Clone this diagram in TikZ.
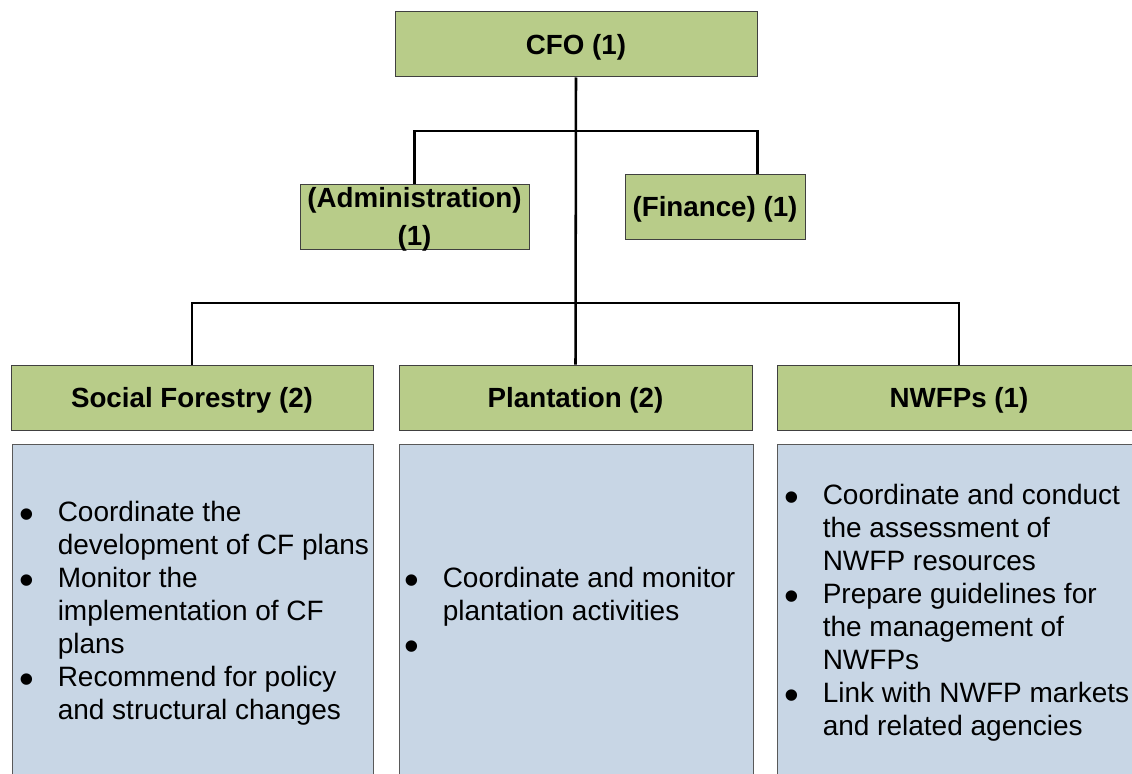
\documentclass[tikz,border=0pt]{standalone}
\usepackage{fontspec}
\setmainfont{Liberation Sans}
\usetikzlibrary{positioning}

\definecolor{headgreen}{RGB}{184,204,137}
\definecolor{bodyblue}{RGB}{200,214,229}

\tikzstyle{head} = [draw=black!75, fill=headgreen, line width=0.75pt, inner sep=0pt,
    align=center, font=\bfseries\fontsize{20.8}{28.5}\selectfont, text depth=0pt,
    minimum height=65*0.75pt]
\tikzstyle{body} = [draw=black!65, fill=bodyblue, line width=0.75pt, inner sep=0pt,
    minimum height=334*0.75pt]
\tikzstyle{tasks} = [anchor=west, inner sep=0pt, font=\fontsize{21}{24.75}\selectfont]
\tikzstyle{link} = [line width=1.9pt]

% bullet list with fixed line breaks
\newcommand{\dotmark}{\raisebox{-0.25em}{\scalebox{1.5}{\textbullet}}}
\newenvironment{tasklist}{\begin{tabular}{@{}p{28.5pt}@{}l@{}}}{\end{tabular}}

\begin{document}
\begin{tikzpicture}[x=0.75pt,y=-0.75pt]
\clip (0,0) rectangle (1132,774);

% top
\node[head, minimum width=362*0.75pt] (cfo) at (576,44.5) {CFO (1)};
\node[head, minimum width=229*0.75pt] (admin) at (414.5,216.5) {(Administration)\\(1)};
\node[head, minimum width=180*0.75pt] (finance) at (715,206.5) {(Finance) (1)};

% sections
\node[head, minimum width=362*0.75pt] (sf) at (192,397.5) {Social Forestry (2)};
\node[head, minimum width=353*0.75pt] (plant) at (575.5,397.5) {Plantation (2)};
\node[head, minimum width=364*0.75pt] (nwfp) at (959,397.5) {NWFPs (1)};

\node[body, minimum width=361*0.75pt] (sfbody) at (192.5,611) {};
\node[body, minimum width=354*0.75pt] (plantbody) at (576,611) {};
\node[body, minimum width=364*0.75pt] (nwfpbody) at (959,611) {};

\node[tasks] (sftext) at ([xshift=8*0.75pt,yshift=-2pt]sfbody.west) {%
\begin{tasklist}
\dotmark & Coordinate the\\
 & development of CF plans\\
\dotmark & Monitor the\\
 & implementation of CF\\
 & plans\\
\dotmark & Recommend for policy\\
 & and structural changes
\end{tasklist}};
\node[tasks] (planttext) at ([xshift=6*0.75pt,yshift=-2pt]plantbody.west) {%
\begin{tasklist}
\dotmark & Coordinate and monitor\\
 & plantation activities\\
\dotmark &
\end{tasklist}};
\node[tasks] (nwfptext) at ([xshift=8*0.75pt,yshift=-2pt]nwfpbody.west) {%
\begin{tasklist}
\dotmark & Coordinate and conduct\\
 & the assessment of\\
 & NWFP resources\\
\dotmark & Prepare guidelines for\\
 & the management of\\
 & NWFPs\\
\dotmark & Link with NWFP markets\\
 & and related agencies
\end{tasklist}};

% connectors
\coordinate (staffbar) at (576,131);
\coordinate (linebar) at (576,303);
\draw[link] (cfo.south) -- (plant.north);
\draw[link] (admin.north) |- (staffbar) -| (cfo.east |- finance.north);
\draw[link] (sf.north) |- (linebar) -| (nwfp.north);
\end{tikzpicture}
\end{document}
